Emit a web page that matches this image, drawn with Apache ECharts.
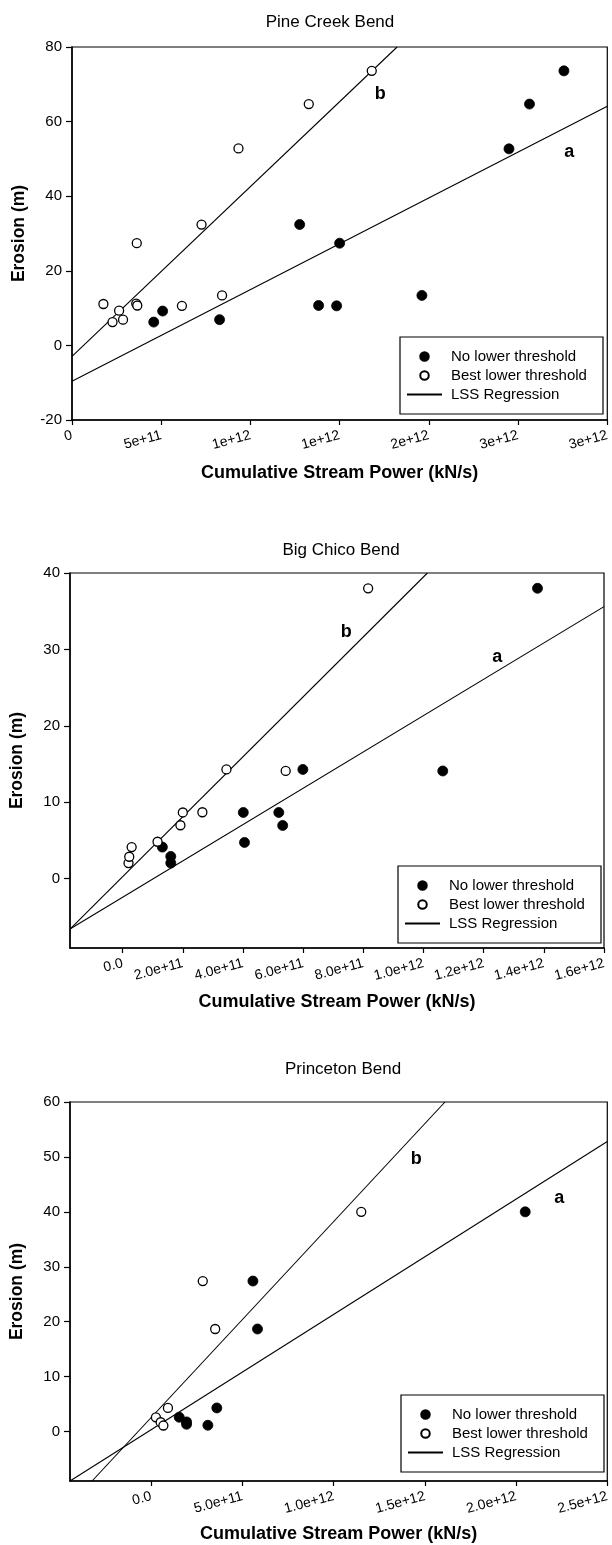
<!DOCTYPE html>
<html><head><meta charset="utf-8">
<script src="https://cdn.jsdelivr.net/npm/echarts@6/dist/echarts.min.js"></script>
<style>html,body{margin:0;padding:0;background:#fff}#c{width:612px;height:1545px}</style>
</head><body><div id="c"></div>
<script>
// ---------- data ----------
const panelTitles = ['Pine Creek Bend', 'Big Chico Bend', 'Princeton Bend'];
const xAxisTitle = 'Cumulative Stream Power (kN/s)';
const yAxisTitle = 'Erosion (m)';
const legendNames = ['No lower threshold', 'Best lower threshold', 'LSS Regression'];

// Panel 1: Pine Creek Bend
const p1NoThreshold = [[4.58e11,6.25],[5.08e11,9.2],[8.27e11,6.9],[1.276e12,32.4],[1.50e12,27.4],[1.382e12,10.7],[1.483e12,10.6],[1.961e12,13.4],[2.449e12,52.7],[2.564e12,64.7],[2.757e12,73.6]];
const p1BestThreshold = [[1.76e11,11.1],[2.27e11,6.25],[2.64e11,9.3],[2.86e11,6.9],[3.60e11,11.2],[3.66e11,10.7],[3.63e11,27.4],[6.16e11,10.6],[7.26e11,32.4],[8.41e11,13.4],[9.33e11,52.8],[1.327e12,64.7],[1.68e12,73.6]];
const p1LineA = [[0,-9.64],[3e12,64.1]];
const p1LineB = [[0,-2.95],[1.822e12,80]];
const p1Letters = [[1.73e12,67.2,'b'],[2.79e12,51.8,'a']];
const p1XRange = [0, 3e12];
const p1XTicks = [0,5e11,1e12,1.5e12,2e12,2.5e12,3e12];
const p1XTickLabels = ['0','5e+11','1e+12','1e+12','2e+12','3e+12','3e+12'];
const p1YRange = [-20, 80];
const p1YTicks = [-20,0,20,40,60,80];

// Panel 2: Big Chico Bend
const p2NoThreshold = [[1.32e11,4.14],[1.6e11,2.92],[1.6e11,2.05],[4.01e11,8.67],[4.05e11,4.75],[5.19e11,8.67],[5.32e11,6.97],[5.99e11,14.3],[1.064e12,14.1],[1.379e12,38.0]];
const p2BestThreshold = [[1.95e10,2.05],[2.2e10,2.88],[2.99e10,4.14],[1.16e11,4.84],[1.92e11,7.0],[2.0e11,8.67],[2.65e11,8.7],[3.45e11,14.3],[5.42e11,14.1],[8.16e11,38.0]];
const p2LineA = [[-1.75e11,-6.58],[1.6e12,35.6]];
const p2LineB = [[-1.75e11,-6.58],[1.013e12,40]];
const p2Letters = [[7.45e11,32.2,'b'],[1.247e12,29.0,'a']];
const p2XRange = [-1.75e11, 1.6e12];
const p2XTicks = [0,2e11,4e11,6e11,8e11,1e12,1.2e12,1.4e12,1.6e12];
const p2XTickLabels = ['0.0','2.0e+11','4.0e+11','6.0e+11','8.0e+11','1.0e+12','1.2e+12','1.4e+12','1.6e+12'];
const p2YRange = [-9.06, 40];
const p2YTicks = [0,10,20,30,40];

// Panel 3: Princeton Bend
const p3NoThreshold = [[1.53e11,2.6],[1.93e11,1.76],[1.93e11,1.33],[3.1e11,1.15],[3.59e11,4.3],[5.57e11,27.4],[5.82e11,18.67],[2.05e12,40.0]];
const p3BestThreshold = [[2.5e10,2.6],[5.1e10,1.7],[6.6e10,1.1],[9.1e10,4.3],[2.82e11,27.4],[3.5e11,18.67],[1.151e12,40.0]];
const p3LineA = [[-4.46e11,-9],[2.5e12,52.8]];
const p3LineB = [[-3.25e11,-9],[1.61e12,60]];
const p3Letters = [[1.455e12,49.5,'b'],[2.24e12,42.4,'a']];
const p3XRange = [-4.46e11, 2.5e12];
const p3XTicks = [0,5e11,1e12,1.5e12,2e12,2.5e12];
const p3XTickLabels = ['0.0','5.0e+11','1.0e+12','1.5e+12','2.0e+12','2.5e+12'];
const p3YRange = [-9, 60];
const p3YTicks = [0,10,20,30,40,50,60];

// ---------- layout ----------
const FONT = '"Liberation Sans", Arial, Helvetica, sans-serif';
const grids = [
  {left: 72, top: 47, width: 536, height: 373},
  {left: 68, top: 573, width: 536, height: 375},
  {left: 68, top: 1102, width: 543, height: 379}
];
const titleCenters = [325, 336, 338];
const titleTops = [9, 537, 1056];
const legendPos = [{left: 400, top: 337}, {left: 398, top: 866}, {left: 401, top: 1395}];
const xNameGaps = [44, 45, 44];

const panels = [
  {no: p1NoThreshold, best: p1BestThreshold, a: p1LineA, b: p1LineB, letters: p1Letters, xr: p1XRange, xt: p1XTicks, xl: p1XTickLabels, yr: p1YRange, yt: p1YTicks},
  {no: p2NoThreshold, best: p2BestThreshold, a: p2LineA, b: p2LineB, letters: p2Letters, xr: p2XRange, xt: p2XTicks, xl: p2XTickLabels, yr: p2YRange, yt: p2YTicks},
  {no: p3NoThreshold, best: p3BestThreshold, a: p3LineA, b: p3LineB, letters: p3Letters, xr: p3XRange, xt: p3XTicks, xl: p3XTickLabels, yr: p3YRange, yt: p3YTicks}
];

const option = {
  backgroundColor: '#fff',
  animation: false,
  textStyle: {fontFamily: FONT, color: '#000'},
  title: [], grid: [], xAxis: [], yAxis: [], legend: [], series: []
};

panels.forEach((p, i) => {
  const g = grids[i];
  option.title.push({
    text: panelTitles[i], left: titleCenters[i], top: titleTops[i], textAlign: 'center',
    textStyle: {fontFamily: FONT, fontSize: 17, fontWeight: 'normal', color: '#000'}
  });
  option.grid.push(Object.assign({show: true, borderColor: '#000', borderWidth: 1.2, backgroundColor: '#fff'}, g));
  option.xAxis.push({
    type: 'value', gridIndex: i, min: p.xr[0], max: p.xr[1],
    name: xAxisTitle, nameLocation: 'middle', nameGap: xNameGaps[i],
    nameTextStyle: {fontFamily: FONT, fontSize: 18, fontWeight: 'bold', color: '#000'},
    axisLine: {onZero: false, lineStyle: {color: '#000', width: 1.5}},
    axisTick: {show: true, length: 5, customValues: p.xt, lineStyle: {color: '#000', width: 1.2}},
    axisLabel: {customValues: p.xt, rotate: 15, margin: 15, fontFamily: FONT, fontSize: 14, color: '#000',
      formatter: (v) => { const k = p.xt.findIndex(t => Math.abs(t - v) < 1); return k >= 0 ? p.xl[k] : ''; }},
    splitLine: {show: false}
  });
  option.yAxis.push({
    type: 'value', gridIndex: i, min: p.yr[0], max: p.yr[1],
    name: yAxisTitle, nameLocation: 'middle', nameGap: 44, nameRotate: 90,
    nameTextStyle: {fontFamily: FONT, fontSize: 17.5, fontWeight: 'bold', color: '#000'},
    axisLine: {onZero: false, lineStyle: {color: '#000', width: 1.5}},
    axisTick: {show: true, length: 6, customValues: p.yt, lineStyle: {color: '#000', width: 1.2}},
    axisLabel: {customValues: p.yt, margin: 10, fontFamily: FONT, fontSize: 15, color: '#000'},
    splitLine: {show: false}
  });
  option.legend.push({
    show: true, orient: 'vertical', left: legendPos[i].left, top: legendPos[i].top,
    data: [{name: legendNames[0]}, {name: legendNames[1]}, {name: legendNames[2], itemStyle: {opacity: 0}}],
    selectedMode: false,
    borderColor: '#000', borderWidth: 1.2, backgroundColor: '#fff',
    padding: [12, 10, 12, 6], itemGap: 4, itemWidth: 35, itemHeight: 8.5,
    textStyle: {fontFamily: FONT, fontSize: 15, lineHeight: 15, color: '#000', width: 142, padding: [0, 0, 0, 4]}
  });
  option.series.push(
    {name: legendNames[0], type: 'scatter', xAxisIndex: i, yAxisIndex: i, data: p.no, symbol: 'circle', symbolSize: 10,
      itemStyle: {color: '#000', borderColor: '#000', borderWidth: 0.8, opacity: 1}, silent: true, z: 4},
    {name: legendNames[1], type: 'scatter', xAxisIndex: i, yAxisIndex: i, data: p.best, symbol: 'circle', symbolSize: 9,
      itemStyle: {color: '#fff', borderColor: '#000', borderWidth: 1.3, opacity: 1}, silent: true, z: 5},
    {name: legendNames[2], type: 'line', xAxisIndex: i, yAxisIndex: i, data: p.a, symbol: 'none', showSymbol: false, clip: true,
      lineStyle: {color: '#000', width: 1.1}, itemStyle: {color: '#000'}, silent: true, z: 3},
    {name: legendNames[2], type: 'line', xAxisIndex: i, yAxisIndex: i, data: p.b, symbol: 'none', showSymbol: false, clip: true,
      lineStyle: {color: '#000', width: 1.1}, itemStyle: {color: '#000'}, silent: true, z: 3},
    {name: 'letters', type: 'scatter', xAxisIndex: i, yAxisIndex: i, data: p.letters, symbolSize: 1, silent: true, z: 6,
      itemStyle: {opacity: 0},
      label: {show: true, position: [0, 0], align: 'center', verticalAlign: 'middle', formatter: (d) => d.value[2],
        fontFamily: FONT, fontSize: 18, fontWeight: 'bold', color: '#000', opacity: 1}}
  );
});

const chart = echarts.init(document.getElementById('c'), null, {renderer: 'canvas'});
chart.setOption(option);
</script>
</body></html>
